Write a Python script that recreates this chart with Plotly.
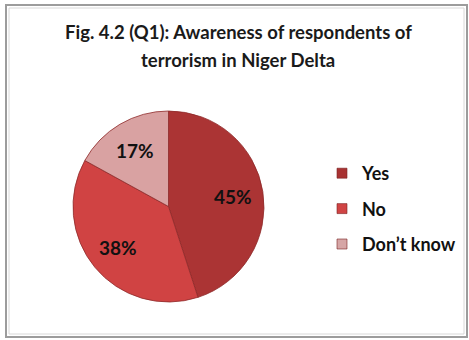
import math
import plotly.graph_objects as go

# Survey responses (Q1)
labels = ["Yes", "No", "Don\u2019t know"]
shares = [45, 38, 17]
slice_colors = ["#ab3434", "#d04343", "#d9a2a2"]
legend_colors = ["#a83232", "#d04444", "#d6a6a6"]
title_lines = ["Fig. 4.2 (Q1): Awareness of respondents of", "terrorism in Niger Delta"]

W, H = 469, 340
FONT = "Lato, Open Sans, sans-serif"

def px_x(v):
    return v / W

def px_y(v):
    return 1 - v / H

# pie placement in pixels
pie_left, pie_right, pie_top, pie_bottom = 73, 264, 111, 302
cx = (pie_left + pie_right) / 2
cy = (pie_top + pie_bottom) / 2
radius = (pie_right - pie_left) / 2

fig = go.Figure()

fig.add_trace(go.Pie(
    labels=labels,
    values=shares,
    sort=False,
    direction="clockwise",
    rotation=0,
    marker=dict(colors=slice_colors, line=dict(color="#8e2a2a", width=0.8)),
    textinfo="none",
    showlegend=False,
    hoverinfo="label+percent",
    domain=dict(x=[px_x(pie_left), px_x(pie_right)], y=[px_y(pie_bottom), px_y(pie_top)]),
))

# Percentage labels placed along each slice's mid-angle
annotations = []
total = sum(shares)
cum = 0
for v in shares:
    mid = (cum + v / 2) / total * 2 * math.pi
    cum += v
    lx = cx + 0.68 * radius * math.sin(mid)
    ly = cy - 0.68 * radius * math.cos(mid)
    annotations.append(dict(
        x=px_x(lx), y=px_y(ly), xref="paper", yref="paper",
        text=f"<b>{round(v / total * 100)}%</b>", showarrow=False,
        xanchor="center", yanchor="middle",
        font=dict(family=FONT, size=19, color="#111111"),
    ))

# Two-line heading
for line, ypx in zip(title_lines, [32, 60]):
    annotations.append(dict(
        x=px_x(238), y=px_y(ypx), xref="paper", yref="paper",
        text=f"<b>{line}</b>", showarrow=False,
        xanchor="center", yanchor="middle",
        font=dict(family=FONT, size=18.5, color="#1a1a1a"),
    ))

# Legend entries, one group each so the rows can be spaced apart
for name, col in zip(labels, legend_colors):
    fig.add_trace(go.Scatter(
        x=[None], y=[None], mode="markers", name=name, legendgroup=name,
        marker=dict(symbol="square", size=10, color=col,
                    line=dict(color="#7a2222", width=0.6)),
        xaxis="x", yaxis="y",
    ))

fig.update_layout(
    width=W, height=H,
    margin=dict(l=0, r=0, t=0, b=0),
    paper_bgcolor="white",
    plot_bgcolor="white",
    xaxis=dict(visible=False),
    yaxis=dict(visible=False),
    annotations=annotations,
    legend=dict(
        x=px_x(322), xanchor="left",
        y=px_y(155), yanchor="top",
        font=dict(family=FONT, size=18, color="#111111", weight="bold"),
        tracegroupgap=9,
        itemwidth=30,
        bgcolor="rgba(0,0,0,0)",
    ),
    shapes=[
        # outer frame
        dict(type="rect", xref="paper", yref="paper",
             x0=px_x(6), x1=px_x(467), y0=px_y(337), y1=px_y(5),
             line=dict(color="#9c9c9c", width=2)),
        # inner shadow line
        dict(type="rect", xref="paper", yref="paper",
             x0=px_x(9), x1=px_x(464), y0=px_y(334), y1=px_y(8),
             line=dict(color="#d8d8d8", width=1)),
    ],
)

fig.write_html("out.html")
